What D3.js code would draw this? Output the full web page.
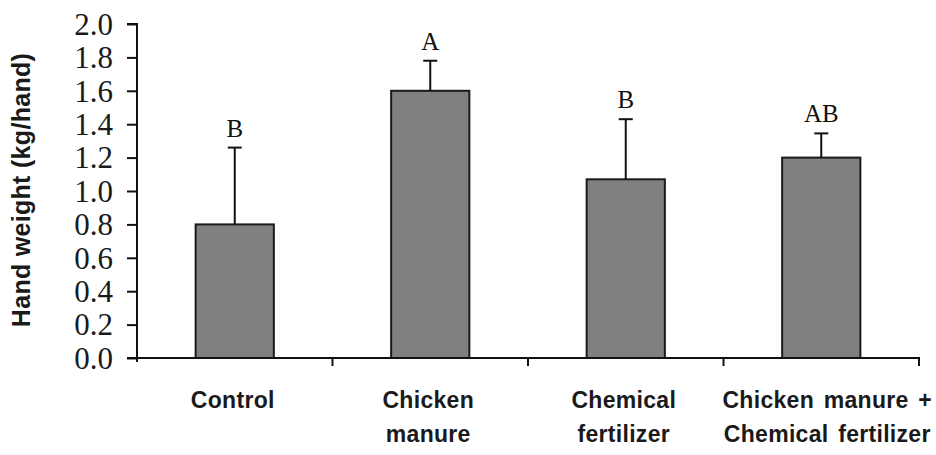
<!DOCTYPE html>
<html>
<head>
<meta charset="utf-8">
<script src="https://cdn.jsdelivr.net/npm/d3@7"></script>
<style>
  html, body { margin: 0; padding: 0; background: #fff; }
  svg { display: block; }
</style>
</head>
<body>
<svg id="chart" width="936" height="455"></svg>
<script>
const categories = [
  ["Control"],
  ["Chicken", "manure"],
  ["Chemical", "fertilizer"],
  ["Chicken manure +", "Chemical fertilizer"]
];
const categoryKeys = ["Control", "Chicken manure", "Chemical fertilizer", "Chicken manure + Chemical fertilizer"];
const means = [0.80, 1.60, 1.07, 1.20];
const errors = [0.46, 0.18, 0.36, 0.145];
const letters = ["B", "A", "B", "AB"];
const yTicks = [0.0, 0.2, 0.4, 0.6, 0.8, 1.0, 1.2, 1.4, 1.6, 1.8, 2.0];

const svg = d3.select("#chart");
const mLeft = 137, mRight = 919, mTop = 24, mBottom = 358;

const x = d3.scaleBand().domain(categoryKeys).range([mLeft, mRight]).paddingInner(0.6).paddingOuter(0.3);
const xb = d3.scaleBand().domain(categoryKeys).range([mLeft, mRight]);
const y = d3.scaleLinear().domain([0, 2.0]).range([mBottom, mTop]);

// bars
svg.selectAll("rect.bar").data(means).join("rect")
  .attr("class", "bar")
  .attr("x", (d, i) => x(categoryKeys[i]))
  .attr("width", x.bandwidth())
  .attr("y", d => y(d))
  .attr("height", d => y(0) - y(d))
  .attr("fill", "#808080")
  .attr("stroke", "#1a1a1a")
  .attr("stroke-width", 2);

// error bars
const cx = i => x(categoryKeys[i]) + x.bandwidth() / 2;
svg.selectAll("line.err").data(means).join("line")
  .attr("class", "err")
  .attr("x1", (d, i) => cx(i)).attr("x2", (d, i) => cx(i))
  .attr("y1", d => y(d)).attr("y2", (d, i) => y(d + errors[i]))
  .attr("stroke", "#111").attr("stroke-width", 2);
svg.selectAll("line.cap").data(means).join("line")
  .attr("class", "cap")
  .attr("x1", (d, i) => cx(i) - 7).attr("x2", (d, i) => cx(i) + 7)
  .attr("y1", (d, i) => y(d + errors[i])).attr("y2", (d, i) => y(d + errors[i]))
  .attr("stroke", "#111").attr("stroke-width", 2);

// letters
svg.selectAll("text.letter").data(means).join("text")
  .attr("class", "letter")
  .attr("x", (d, i) => cx(i))
  .attr("y", (d, i) => y(d + errors[i]) - 11)
  .attr("text-anchor", "middle")
  .attr("font-family", "'Liberation Serif', 'Times New Roman', serif")
  .attr("font-size", 25)
  .attr("fill", "#111")
  .text((d, i) => letters[i]);

// y axis
const yAxis = d3.axisLeft(y).tickValues(yTicks).tickFormat(d3.format(".1f")).tickSize(10).tickPadding(14);
const gy = svg.append("g").attr("transform", `translate(${mLeft},0)`).call(yAxis);
gy.select(".domain").attr("stroke", "#111").attr("stroke-width", 2).attr("d", `M-10,${mTop}H0V${mBottom + 4}`);
gy.selectAll(".tick line").attr("stroke", "#111").attr("stroke-width", 2);
gy.selectAll(".tick text")
  .attr("font-family", "'Liberation Serif', 'Times New Roman', serif")
  .attr("font-size", 31)
  .attr("fill", "#1a1a1a")
  .attr("dy", "0.33em");

// x axis
const xAxis = d3.axisBottom(xb).tickValues([]).tickSize(0);
const gx = svg.append("g").attr("transform", `translate(0,${mBottom})`).call(xAxis);
gx.select(".domain").attr("stroke", "#111").attr("stroke-width", 2).attr("d", `M${mLeft - 10},0H${mRight}V8`);
const bounds = categoryKeys.slice(1).map(k => xb(k));
gx.selectAll("line.btick").data(bounds).join("line")
  .attr("class", "btick")
  .attr("x1", d => d).attr("x2", d => d).attr("y1", 0).attr("y2", 8)
  .attr("stroke", "#111").attr("stroke-width", 2);

// x labels
categories.forEach((lines, i) => {
  const t = svg.append("text")
    .attr("text-anchor", "middle")
    .attr("font-family", "'Liberation Sans', Arial, sans-serif")
    .attr("font-weight", "bold")
    .attr("font-size", 23)
    .attr("letter-spacing", 0.3)
    .attr("word-spacing", 3)
    .attr("fill", "#1a1a1a");
  lines.forEach((ln, j) => {
    t.append("tspan").attr("x", xb(categoryKeys[i]) + xb.bandwidth() / 2 - (i === 3 ? -6 : 2)).attr("y", 408 + j * 34).text(ln);
  });
});

// y label
svg.append("text")
  .attr("transform", "translate(30,190) rotate(-90)")
  .attr("text-anchor", "middle")
  .attr("font-family", "'Liberation Sans', Arial, sans-serif")
  .attr("font-weight", "bold")
  .attr("font-size", 25)
  .attr("letter-spacing", 0.3)
  .attr("fill", "#1a1a1a")
  .text("Hand weight (kg/hand)");
</script>
</body>
</html>
